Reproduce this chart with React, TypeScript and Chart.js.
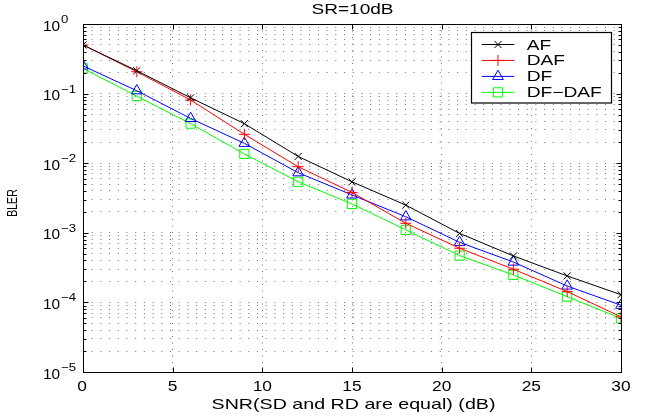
import React, { useEffect, useRef } from 'react';
import { Chart, registerables } from 'chart.js';

Chart.register(...registerables);

// ---- data ----
const snr = [0, 3, 6, 9, 12, 15, 18, 21, 24, 27, 30];
const af = [0.5, 0.213, 0.087, 0.037, 0.0125, 0.0054, 0.0025, 0.00098, 0.000465, 0.00024, 0.000129];
const daf = [0.5, 0.206, 0.081, 0.026, 0.0089, 0.0038, 0.00137, 0.0006, 0.0003, 0.000143, 0.000062];
const df = [0.25, 0.11, 0.044, 0.0193, 0.0073, 0.0035, 0.0017, 0.00073, 0.00038, 0.000172, 0.000091];
const dfdaf = [0.23, 0.092, 0.037, 0.0136, 0.0054, 0.0026, 0.0011, 0.00047, 0.000248, 0.000121, 0.000059];

const seriesNames = ['AF', 'DAF', 'DF', 'DF\u2212DAF'];
const xTicks = [0, 5, 10, 15, 20, 25, 30];
const yExponents = [-5, -4, -3, -2, -1, 0];
const titleText = 'SR=10dB';
const xTitle = 'SNR(SD and RD are equal) (dB)';
const yTitle = 'BLER';

const COLORS = ['#000000', '#ff0000', '#0000ff', '#00ff00'];
const STYLES = ['crossRot', 'cross', 'triangle', 'rect'];
const RADII = [5, 5.5, 6.2, 6.5];
const FONT = '"Liberation Sans", Arial, Helvetica, sans-serif';
const GRID = 'rgba(0,0,0,0.55)';

function yGridValues(): number[] {
  const out: number[] = [];
  for (const e of yExponents) {
    if (e === 0) { out.push(1); continue; }
    for (let m = 1; m <= 9; m++) out.push(m * Math.pow(10, e));
  }
  return out;
}

function text(ctx: CanvasRenderingContext2D, s: string, x: number, y: number, size: number, sx: number, align: CanvasTextAlign) {
  ctx.save();
  ctx.translate(x, y);
  ctx.scale(sx, 1);
  ctx.font = `${size}px ${FONT}`;
  ctx.textAlign = align;
  ctx.textBaseline = 'alphabetic';
  ctx.fillStyle = '#000';
  ctx.fillText(s, 0, 0);
  ctx.restore();
}

function marker(ctx: CanvasRenderingContext2D, style: string, r: number, x: number, y: number, color: string) {
  ctx.save();
  ctx.strokeStyle = color;
  ctx.lineWidth = 1;
  ctx.beginPath();
  if (style === 'crossRot') {
    const d = r * Math.SQRT1_2;
    ctx.moveTo(x - d, y - d); ctx.lineTo(x + d, y + d);
    ctx.moveTo(x - d, y + d); ctx.lineTo(x + d, y - d);
  } else if (style === 'cross') {
    ctx.moveTo(x - r, y); ctx.lineTo(x + r, y);
    ctx.moveTo(x, y - r); ctx.lineTo(x, y + r);
  } else if (style === 'triangle') {
    ctx.moveTo(x, y - r);
    ctx.lineTo(x + 0.866 * r, y + 0.5 * r);
    ctx.lineTo(x - 0.866 * r, y + 0.5 * r);
    ctx.closePath();
  } else {
    const s = r * Math.SQRT1_2;
    ctx.rect(x - s, y - s, 2 * s, 2 * s);
  }
  ctx.stroke();
  ctx.restore();
}

const matlabPlugin = {
  id: 'matlabDecor',
  afterDraw(chart: any) {
    const ctx: CanvasRenderingContext2D = chart.ctx;
    const { left, right, top, bottom } = chart.chartArea;
    const xs = chart.scales.x;
    const ys = chart.scales.y;
    const al = (v: number) => Math.round(v) + 0.5;

    ctx.save();
    // frame
    ctx.strokeStyle = '#000';
    ctx.lineWidth = 1;
    ctx.strokeRect(al(left), al(top), Math.round(right) - Math.round(left), Math.round(bottom) - Math.round(top));

    // inward tick marks
    ctx.beginPath();
    for (const v of yGridValues()) {
      const py = al(ys.getPixelForValue(v));
      const major = Math.abs(Math.log10(v) - Math.round(Math.log10(v))) < 1e-9;
      const len = major ? 5 : 3;
      ctx.moveTo(al(left), py); ctx.lineTo(al(left) + len, py);
      ctx.moveTo(al(right), py); ctx.lineTo(al(right) - len, py);
    }
    for (const v of xTicks) {
      const px = al(xs.getPixelForValue(v));
      ctx.moveTo(px, al(bottom)); ctx.lineTo(px, al(bottom) - 5);
      ctx.moveTo(px, al(top)); ctx.lineTo(px, al(top) + 5);
    }
    ctx.stroke();

    // x tick labels
    for (const v of xTicks) {
      const px = xs.getPixelForValue(v);
      text(ctx, String(v), px - (v === 0 ? 1 : 0), bottom + 18.5, 14, 1.24, 'center');
    }
    // y tick labels 10^e
    for (const e of yExponents) {
      const py = ys.getPixelForValue(Math.pow(10, e));
      text(ctx, '10', 43, py + 6.5, 14, 1.1, 'left');
      const exp = e < 0 ? '\u2212' + String(-e) : String(e);
      text(ctx, exp, 61, py - 1, 11, 1.2, 'left');
    }

    // titles
    text(ctx, titleText, (left + right) / 2 + 0.5, 14, 14, 1.36, 'center');
    text(ctx, xTitle, (left + right) / 2 + 1.5, 409.3, 15, 1.31, 'center');
    ctx.save();
    ctx.translate(16.7, 203);
    ctx.scale(1.32, 1);
    ctx.rotate(-Math.PI / 2);
    ctx.font = `10.6px ${FONT}`;
    ctx.textAlign = 'center';
    ctx.fillStyle = '#000';
    ctx.fillText(yTitle, 0, 0);
    ctx.restore();

    // legend
    const lx0 = 471.5, ly0 = 32.5, lw = 140, lh = 70.5;
    ctx.fillStyle = '#fff';
    ctx.fillRect(lx0, ly0, lw, lh);
    ctx.strokeStyle = '#000';
    ctx.lineWidth = 1.2;
    ctx.strokeRect(lx0, ly0, lw, lh);
    seriesNames.forEach((name, i) => {
      const cy = 44.5 + i * 15.95;
      ctx.strokeStyle = COLORS[i];
      ctx.lineWidth = 1;
      ctx.beginPath();
      ctx.moveTo(481.7, cy); ctx.lineTo(514.3, cy);
      ctx.stroke();
      marker(ctx, STYLES[i], RADII[i], 498, cy, COLORS[i]);
      text(ctx, name, 526.7, cy + 5, 14, 1.37, 'left');
    });
    ctx.restore();
  },
};

export default function App() {
  const ref = useRef<HTMLCanvasElement | null>(null);

  useEffect(() => {
    if (!ref.current) return;
    const all = [af, daf, df, dfdaf];
    const chart = new Chart(ref.current, {
      type: 'line',
      data: {
        datasets: all.map((vals, i) => ({
          label: seriesNames[i],
          data: snr.map((x, j) => ({ x, y: vals[j] })),
          borderColor: COLORS[i],
          borderWidth: 1,
          pointStyle: STYLES[i] as any,
          pointRadius: RADII[i],
          pointBorderWidth: 1,
          pointBorderColor: COLORS[i],
          pointBackgroundColor: 'rgba(0,0,0,0)',
          fill: false,
          tension: 0,
        })),
      },
      options: {
        animation: false,
        responsive: false,
        devicePixelRatio: 1,
        layout: { padding: { left: 83, right: 26, top: 24, bottom: 45 } },
        plugins: {
          legend: { display: false },
          title: { display: false },
          tooltip: { enabled: false },
        },
        scales: {
          x: {
            type: 'linear',
            min: 0,
            max: 30,
            ticks: { display: false },
            grid: { drawTicks: false, color: GRID, lineWidth: 1 },
            border: { display: false, dash: [1, 5.5] },
            afterBuildTicks: (s: any) => { s.ticks = xTicks.map((v) => ({ value: v })); },
          },
          y: {
            type: 'logarithmic',
            min: 1e-5,
            max: 1,
            ticks: { display: false },
            grid: { drawTicks: false, color: GRID, lineWidth: 1 },
            border: { display: false, dash: [1, 7.7] },
            afterBuildTicks: (s: any) => { s.ticks = yGridValues().map((v) => ({ value: v })); },
          },
        },
      } as any,
      plugins: [matlabPlugin],
    });
    return () => chart.destroy();
  }, []);

  return (
    <div style={{ position: 'absolute', left: 0, top: 0, width: 647, height: 417, background: '#fff' }}>
      <canvas ref={ref} width={647} height={417} style={{ display: 'block' }} />
    </div>
  );
}
